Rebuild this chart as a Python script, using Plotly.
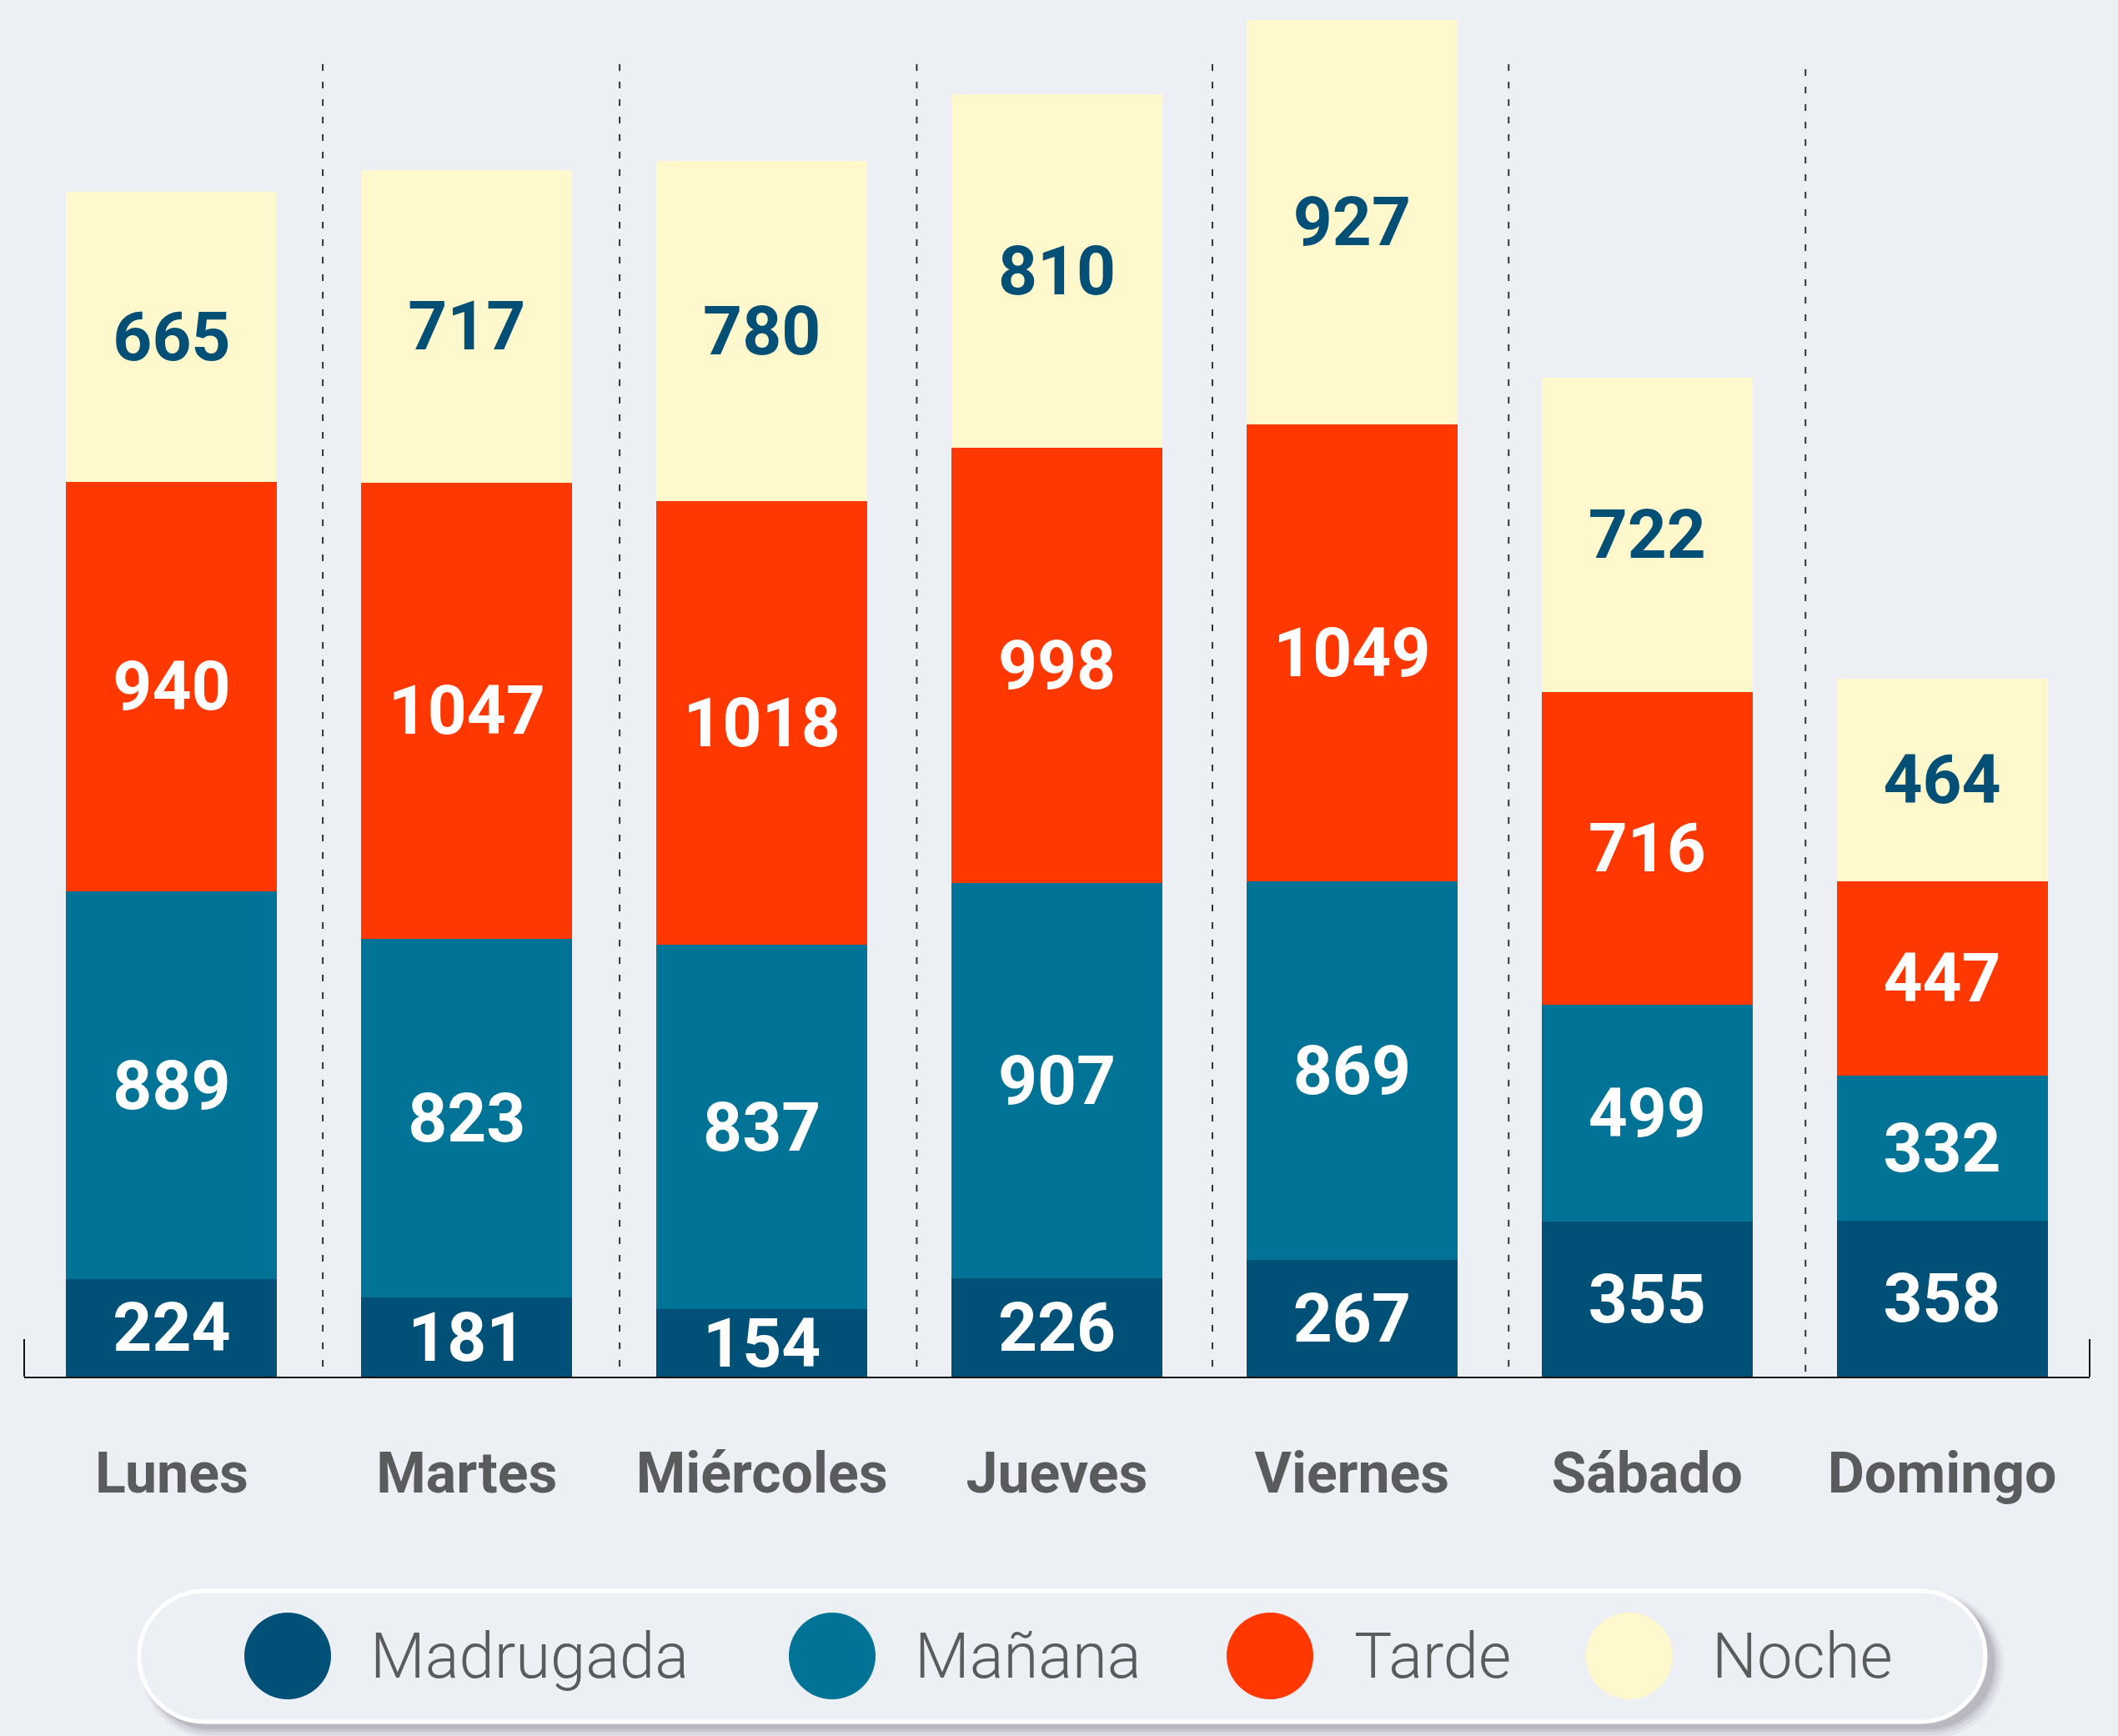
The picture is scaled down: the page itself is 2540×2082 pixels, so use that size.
import plotly.graph_objects as go

dias = ['Lunes', 'Martes', 'Miércoles', 'Jueves', 'Viernes', 'Sábado', 'Domingo']
madrugada = [224, 181, 154, 226, 267, 355, 358]
manana = [889, 823, 837, 907, 869, 499, 332]
tarde = [940, 1047, 1018, 998, 1049, 716, 447]
noche = [665, 717, 780, 810, 927, 722, 464]
franjas = ['Madrugada', 'Mañana', 'Tarde', 'Noche']

colores = ['#015077', '#007396', '#FF3700', '#FFF8CC']
coloresTexto = ['#FFFFFF', '#FFFFFF', '#FFFFFF', '#034F75']
bgColor = '#ECEFF4'
grisTexto = '#5A5B5D'

W, H = 2540, 2082
L, R, T, B = 29, 2506, 0, 1651


def px(x):
    return (x - L) / (R - L)


def py(y):
    return (B - y) / (B - T)


def pillPath(x0, y0, x1, y1):
    r = (y1 - y0) / 2
    cy = (y0 + y1) / 2
    k = 0.5523 * r
    pts = [
        ('M', [(x0 + r, y0)]),
        ('L', [(x1 - r, y0)]),
        ('C', [(x1 - r + k, y0), (x1, cy - k), (x1, cy)]),
        ('C', [(x1, cy + k), (x1 - r + k, y1), (x1 - r, y1)]),
        ('L', [(x0 + r, y1)]),
        ('C', [(x0 + r - k, y1), (x0, cy + k), (x0, cy)]),
        ('C', [(x0, cy - k), (x0 + r - k, y0), (x0 + r, y0)]),
    ]
    out = ''
    for cmd, ps in pts:
        out += cmd + ' ' + ' '.join('%.5f,%.5f' % (px(a), py(b)) for a, b in ps) + ' '
    return out + 'Z'


fig = go.Figure()
for nombre, valores, color, colorTexto in zip(franjas, [madrugada, manana, tarde, noche], colores, coloresTexto):
    fig.add_trace(go.Bar(x=dias, y=valores, name=nombre, marker=dict(color=color, line=dict(width=0)),
                         text=valores, textposition='inside', insidetextanchor='middle', textangle=0,
                         textfont=dict(family='Roboto', size=82, color=colorTexto, weight='bold'),
                         cliponaxis=False, hoverinfo='skip', showlegend=False))

shapes = []
# separadores discontinuos (algo desplazados respecto al centro, como en el original)
sepX = [0.512, 1.518, 2.525, 3.527, 4.531, 5.537]
sepTop = [77, 77, 77, 77, 77, 83, 77]
for i, xs in enumerate(sepX):
    shapes.append(dict(type='line', xref='x', yref='paper', x0=xs, x1=xs, y0=py(sepTop[i]), y1=0,
                       line=dict(color='#333333', width=2, dash='8px,13px'), layer='below'))
# remates del eje
for xe in [0, 1]:
    shapes.append(dict(type='line', xref='paper', yref='paper', x0=xe, x1=xe, y0=0, y1=py(1606),
                       line=dict(color='#111111', width=2)))

# leyenda a mano
lx0, ly0, lx1, ly1 = 167, 1908, 2381, 2065
for d, op in [(14, 0.05), (10, 0.07), (6, 0.09), (3, 0.1)]:
    shapes.append(dict(type='path', xref='paper', yref='paper',
                       path=pillPath(lx0 + 8 - d / 2, ly0 + 8 - d / 2, lx1 + 8 + d, ly1 + 6 + d),
                       fillcolor='rgba(60,60,70,%.2f)' % op, line=dict(width=0)))
shapes.append(dict(type='path', xref='paper', yref='paper', path=pillPath(lx0, ly0, lx1, ly1),
                   fillcolor=bgColor, line=dict(color='#FFFFFF', width=5)))

circX = [345, 998, 1523, 1954]
textX = [442, 1095, 1622, 2051]
cyLeg = 1986
annotations = []
for nombre, color, cx, tx in zip(franjas, colores, circX, textX):
    shapes.append(dict(type='circle', xref='paper', yref='paper', x0=px(cx - 52), x1=px(cx + 52),
                       y0=py(cyLeg + 52), y1=py(cyLeg - 52), fillcolor=color, line=dict(width=0)))
    annotations.append(dict(xref='paper', yref='paper', x=px(tx), y=py(cyLeg), xanchor='left', yanchor='middle',
                            text=nombre, showarrow=False,
                            font=dict(family='Roboto', size=76, color=grisTexto, weight=300)))

fig.update_layout(
    width=W, height=H, barmode='stack', bargap=0.285,
    margin=dict(l=L, r=W - R, t=T, b=H - B, pad=0),
    paper_bgcolor=bgColor, plot_bgcolor=bgColor,
    uniformtext=dict(minsize=82, mode='show'),
    xaxis=dict(range=[-0.5, 6.5], showline=True, linecolor='#111111', linewidth=2, ticks='',
               showgrid=False, zeroline=False, ticklabelstandoff=55,
               tickfont=dict(family='Roboto', size=68, color=grisTexto, weight='bold')),
    yaxis=dict(range=[0, 3158], visible=False, showgrid=False, zeroline=False),
    shapes=shapes, annotations=annotations,
)

fig.write_html("out.html", config={'displayModeBar': False},
               post_script="document.body.style.margin='0';")
